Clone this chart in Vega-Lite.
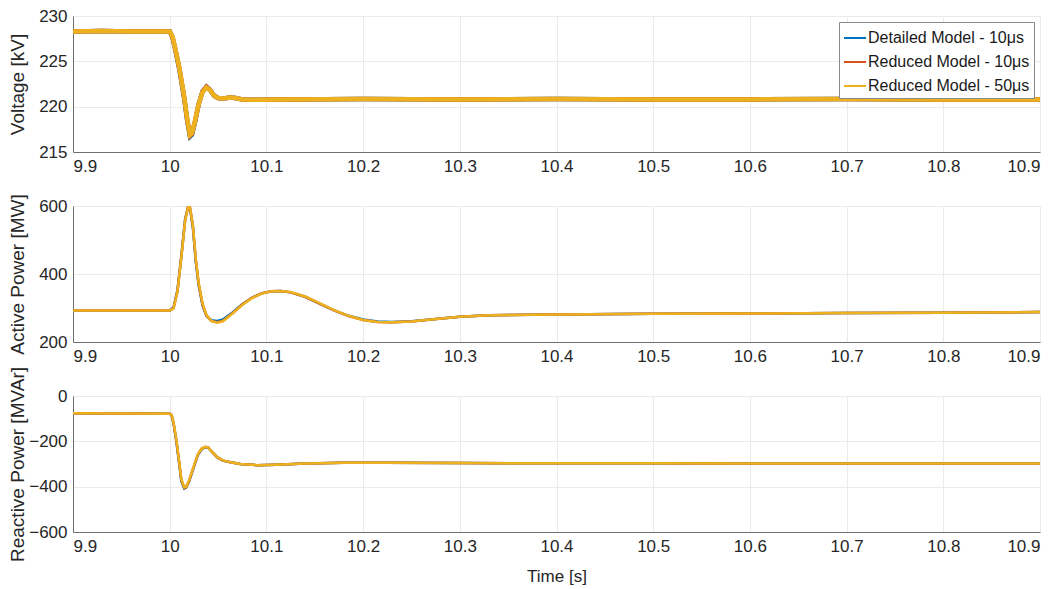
{
  "$schema": "https://vega.github.io/schema/vega-lite/v6.json",
  "background": "white",
  "padding": {"left": 8, "top": 7, "right": 10, "bottom": 5},
  "spacing": 54,
  "bounds": "flush",
  "config": {
    "font": "Liberation Sans",
    "view": {"stroke": null},
    "axis": {
      "labelFont": "Liberation Sans",
      "titleFont": "Liberation Sans",
      "labelFontSize": 17,
      "titleFontSize": 19,
      "titleFontWeight": "normal",
      "labelColor": "#262626",
      "titleColor": "#262626",
      "domainColor": "#6e6e6e",
      "gridColor": "#ebebeb",
      "ticks": false,
      "labelPadding": 6
    },
    "legend": {
      "labelFont": "Liberation Sans",
      "labelFontSize": 16,
      "labelColor": "#1a1a1a",
      "labelLimit": 0
    }
  },
  "datasets": {
    "voltage": [
      {"t": 9.9, "det": 228.3, "r10": 228.3, "r50": 228.3},
      {"t": 9.93, "det": 228.35, "r10": 228.35, "r50": 228.35},
      {"t": 9.96, "det": 228.3, "r10": 228.3, "r50": 228.3},
      {"t": 10.0, "det": 228.3, "r10": 228.3, "r50": 228.3},
      {"t": 10.003, "det": 227.6, "r10": 227.6, "r50": 227.7},
      {"t": 10.006, "det": 226.2, "r10": 226.2, "r50": 226.3},
      {"t": 10.01, "det": 224.1, "r10": 224.2, "r50": 224.3},
      {"t": 10.015, "det": 220.9, "r10": 221.0, "r50": 221.1},
      {"t": 10.018, "det": 218.5, "r10": 218.6, "r50": 218.7},
      {"t": 10.021, "det": 216.7, "r10": 216.8, "r50": 216.9},
      {"t": 10.023, "det": 216.9, "r10": 217.0, "r50": 217.1},
      {"t": 10.026, "det": 218.2, "r10": 218.3, "r50": 218.3},
      {"t": 10.03, "det": 220.3, "r10": 220.3, "r50": 220.3},
      {"t": 10.034, "det": 221.7, "r10": 221.7, "r50": 221.6},
      {"t": 10.038, "det": 222.2, "r10": 222.2, "r50": 222.1},
      {"t": 10.042, "det": 221.8, "r10": 221.8, "r50": 221.8},
      {"t": 10.046, "det": 221.2, "r10": 221.2, "r50": 221.2},
      {"t": 10.05, "det": 220.95, "r10": 220.95, "r50": 220.95},
      {"t": 10.056, "det": 220.9, "r10": 220.9, "r50": 220.9},
      {"t": 10.062, "det": 221.0, "r10": 221.0, "r50": 221.0},
      {"t": 10.068, "det": 220.95, "r10": 220.95, "r50": 220.95},
      {"t": 10.075, "det": 220.8, "r10": 220.8, "r50": 220.8},
      {"t": 10.09, "det": 220.75, "r10": 220.75, "r50": 220.75},
      {"t": 10.12, "det": 220.8, "r10": 220.8, "r50": 220.8},
      {"t": 10.2, "det": 220.85, "r10": 220.85, "r50": 220.85},
      {"t": 10.3, "det": 220.8, "r10": 220.8, "r50": 220.8},
      {"t": 10.4, "det": 220.85, "r10": 220.85, "r50": 220.85},
      {"t": 10.5, "det": 220.8, "r10": 220.8, "r50": 220.8},
      {"t": 10.6, "det": 220.8, "r10": 220.8, "r50": 220.8},
      {"t": 10.7, "det": 220.85, "r10": 220.85, "r50": 220.85},
      {"t": 10.8, "det": 220.8, "r10": 220.8, "r50": 220.8},
      {"t": 10.9, "det": 220.8, "r10": 220.8, "r50": 220.8}
    ],
    "active": [
      {"t": 9.9, "det": 293, "r10": 293, "r50": 293},
      {"t": 9.95, "det": 293, "r10": 293, "r50": 293},
      {"t": 10.0, "det": 293, "r10": 293, "r50": 293},
      {"t": 10.004, "det": 302, "r10": 300, "r50": 299},
      {"t": 10.008, "det": 352, "r10": 350, "r50": 348},
      {"t": 10.012, "det": 452, "r10": 450, "r50": 447},
      {"t": 10.016, "det": 562, "r10": 560, "r50": 557},
      {"t": 10.019, "det": 598, "r10": 598, "r50": 597},
      {"t": 10.021, "det": 593, "r10": 595, "r50": 596},
      {"t": 10.024, "det": 536, "r10": 540, "r50": 543},
      {"t": 10.027, "det": 436, "r10": 440, "r50": 444},
      {"t": 10.03, "det": 366, "r10": 370, "r50": 373},
      {"t": 10.034, "det": 307, "r10": 310, "r50": 313},
      {"t": 10.038, "det": 277, "r10": 278, "r50": 280},
      {"t": 10.043, "det": 264, "r10": 262, "r50": 262},
      {"t": 10.049, "det": 262, "r10": 258, "r50": 257},
      {"t": 10.055, "det": 266, "r10": 262, "r50": 261},
      {"t": 10.065, "det": 287, "r10": 285, "r50": 284},
      {"t": 10.075, "det": 311, "r10": 310, "r50": 309},
      {"t": 10.085, "det": 330, "r10": 330, "r50": 329},
      {"t": 10.095, "det": 343, "r10": 343, "r50": 342},
      {"t": 10.105, "det": 349, "r10": 349, "r50": 349},
      {"t": 10.115, "det": 350, "r10": 350, "r50": 350},
      {"t": 10.125, "det": 346, "r10": 346, "r50": 347},
      {"t": 10.14, "det": 333, "r10": 333, "r50": 334},
      {"t": 10.155, "det": 313, "r10": 313, "r50": 314},
      {"t": 10.17, "det": 293, "r10": 293, "r50": 294},
      {"t": 10.185, "det": 277, "r10": 276, "r50": 277},
      {"t": 10.2, "det": 266, "r10": 265, "r50": 265},
      {"t": 10.215, "det": 260, "r10": 259, "r50": 259},
      {"t": 10.23, "det": 259, "r10": 258, "r50": 258},
      {"t": 10.25, "det": 261, "r10": 260, "r50": 260},
      {"t": 10.27, "det": 266, "r10": 266, "r50": 266},
      {"t": 10.3, "det": 274, "r10": 274, "r50": 274},
      {"t": 10.33, "det": 279, "r10": 279, "r50": 279},
      {"t": 10.4, "det": 281, "r10": 281, "r50": 281},
      {"t": 10.5, "det": 283, "r10": 283, "r50": 283},
      {"t": 10.6, "det": 284, "r10": 284, "r50": 284},
      {"t": 10.7, "det": 285, "r10": 285, "r50": 285},
      {"t": 10.8, "det": 286, "r10": 286, "r50": 286},
      {"t": 10.9, "det": 288, "r10": 288, "r50": 288}
    ],
    "reactive": [
      {"t": 9.9, "det": -76, "r10": -76, "r50": -76},
      {"t": 9.95, "det": -77, "r10": -77, "r50": -77},
      {"t": 10.0, "det": -78, "r10": -78, "r50": -78},
      {"t": 10.002, "det": -86, "r10": -85, "r50": -84},
      {"t": 10.004, "det": -122, "r10": -120, "r50": -117},
      {"t": 10.007, "det": -204, "r10": -200, "r50": -196},
      {"t": 10.01, "det": -305, "r10": -300, "r50": -296},
      {"t": 10.012, "det": -375, "r10": -370, "r50": -366},
      {"t": 10.015, "det": -408, "r10": -405, "r50": -403},
      {"t": 10.017, "det": -404, "r10": -402, "r50": -401},
      {"t": 10.02, "det": -378, "r10": -375, "r50": -373},
      {"t": 10.025, "det": -313, "r10": -310, "r50": -307},
      {"t": 10.029, "det": -262, "r10": -260, "r50": -258},
      {"t": 10.033, "det": -235, "r10": -233, "r50": -232},
      {"t": 10.037, "det": -226, "r10": -224, "r50": -224},
      {"t": 10.04, "det": -229, "r10": -228, "r50": -228},
      {"t": 10.044, "det": -248, "r10": -248, "r50": -247},
      {"t": 10.049, "det": -270, "r10": -270, "r50": -269},
      {"t": 10.055, "det": -285, "r10": -285, "r50": -284},
      {"t": 10.063, "det": -292, "r10": -292, "r50": -292},
      {"t": 10.073, "det": -300, "r10": -300, "r50": -300},
      {"t": 10.09, "det": -305, "r10": -305, "r50": -305},
      {"t": 10.11, "det": -303, "r10": -303, "r50": -303},
      {"t": 10.14, "det": -298, "r10": -298, "r50": -298},
      {"t": 10.18, "det": -294, "r10": -294, "r50": -294},
      {"t": 10.22, "det": -294, "r10": -294, "r50": -294},
      {"t": 10.3, "det": -296, "r10": -296, "r50": -296},
      {"t": 10.4, "det": -297, "r10": -297, "r50": -297},
      {"t": 10.5, "det": -297, "r10": -297, "r50": -297},
      {"t": 10.6, "det": -298, "r10": -298, "r50": -298},
      {"t": 10.7, "det": -298, "r10": -298, "r50": -298},
      {"t": 10.8, "det": -298, "r10": -298, "r50": -298},
      {"t": 10.9, "det": -298, "r10": -298, "r50": -298}
    ]
  },
  "resolve": {"scale": {"color": "independent", "y": "independent"}, "legend": {"color": "independent"}},
  "vconcat": [
    {
      "width": 967,
      "height": 136,
      "data": {"name": "voltage"},
      "transform": [{"fold": ["det", "r10", "r50"], "as": ["model", "value"]}],
      "mark": {"type": "line", "strokeWidth": 4.5, "clip": true},
      "encoding": {
        "x": {
          "field": "t", "type": "quantitative",
          "scale": {"domain": [9.9, 10.9], "nice": false},
          "axis": {"values": [9.9, 10, 10.1, 10.2, 10.3, 10.4, 10.5, 10.6, 10.7, 10.8, 10.9], "format": ".2~f", "title": null}
        },
        "y": {
          "field": "value", "type": "quantitative",
          "scale": {"domain": [215, 230], "nice": false, "zero": false},
          "axis": {"values": [215, 220, 225, 230], "title": "Voltage [kV]", "titleX": -46}
        },
        "color": {
          "field": "model", "type": "nominal",
          "scale": {"domain": ["det", "r10", "r50"], "range": ["#0072BD", "#D95319", "#EDB120"]},
          "legend": {
            "title": null,
            "orient": "top-right",
            "offset": 6,
            "symbolType": "stroke",
            "symbolSize": 484,
            "symbolStrokeWidth": 2,
            "labelOffset": 1,
            "rowPadding": 4,
            "padding": 4,
            "fillColor": "white",
            "strokeColor": "#8a8a8a",
            "labelExpr": "{'det': 'Detailed Model - 10μs', 'r10': 'Reduced Model - 10μs', 'r50': 'Reduced Model - 50μs'}[datum.value]"
          }
        }
      }
    },
    {
      "width": 967,
      "height": 136,
      "data": {"name": "active"},
      "transform": [{"fold": ["det", "r10", "r50"], "as": ["model", "value"]}],
      "mark": {"type": "line", "strokeWidth": 2.5, "clip": true},
      "encoding": {
        "x": {
          "field": "t", "type": "quantitative",
          "scale": {"domain": [9.9, 10.9], "nice": false},
          "axis": {"values": [9.9, 10, 10.1, 10.2, 10.3, 10.4, 10.5, 10.6, 10.7, 10.8, 10.9], "format": ".2~f", "title": null}
        },
        "y": {
          "field": "value", "type": "quantitative",
          "scale": {"domain": [200, 600], "nice": false, "zero": false},
          "axis": {"values": [200, 400, 600], "title": "Active Power [MW]", "titleX": -46}
        },
        "color": {
          "field": "model", "type": "nominal",
          "scale": {"domain": ["det", "r10", "r50"], "range": ["#0072BD", "#D95319", "#EDB120"]},
          "legend": null
        }
      }
    },
    {
      "width": 967,
      "height": 136,
      "data": {"name": "reactive"},
      "transform": [{"fold": ["det", "r10", "r50"], "as": ["model", "value"]}],
      "mark": {"type": "line", "strokeWidth": 2.5, "clip": true},
      "encoding": {
        "x": {
          "field": "t", "type": "quantitative",
          "scale": {"domain": [9.9, 10.9], "nice": false},
          "axis": {"values": [9.9, 10, 10.1, 10.2, 10.3, 10.4, 10.5, 10.6, 10.7, 10.8, 10.9], "format": ".2~f", "title": "Time [s]", "titleFontSize": 17, "titlePadding": 14}
        },
        "y": {
          "field": "value", "type": "quantitative",
          "scale": {"domain": [-600, 0], "nice": false},
          "axis": {"values": [-600, -400, -200, 0], "title": "Reactive Power [MVAr]", "titleX": -46}
        },
        "color": {
          "field": "model", "type": "nominal",
          "scale": {"domain": ["det", "r10", "r50"], "range": ["#0072BD", "#D95319", "#EDB120"]},
          "legend": null
        }
      }
    }
  ]
}
